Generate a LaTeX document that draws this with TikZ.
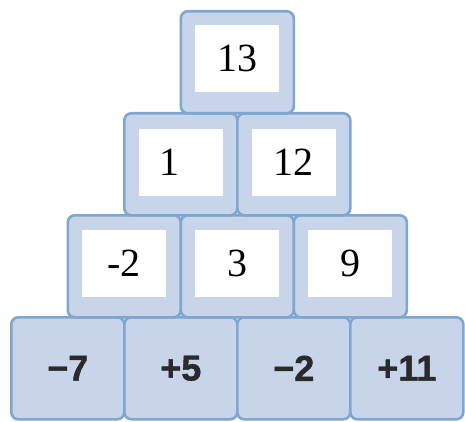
\documentclass[tikz,border=0pt]{standalone}
\usepackage{fontspec}
\setmainfont{Liberation Serif}
\newfontfamily\heavysans[FakeBold=1.2]{Liberation Sans Bold}
\definecolor{boxfill}{HTML}{C7D4EA}
\definecolor{boxedge}{HTML}{7FA6CE}
\definecolor{darktext}{HTML}{2A2A2A}
\begin{document}
\begin{tikzpicture}[x=1pt,y=-1pt,
  block/.style={draw=boxedge, fill=boxfill, line width=2.6pt, rounded corners=7pt,
    minimum width=113pt, minimum height=102pt, inner sep=0pt, anchor=north west},
  whitebox/.style={fill=white, draw=none, minimum width=84pt, minimum height=67pt,
    inner sep=0pt, font=\fontsize{40}{42}\selectfont},
  basetext/.style={font=\heavysans\fontsize{36}{38}\selectfont, text=darktext}]
\useasboundingbox (0,0) rectangle (465,422);
% bottom row
\node[block] (d1) at (10,316) {};
\node[block] (d2) at (123,316) {};
\node[block] (d3) at (236,316) {};
\node[block] (d4) at (349,316) {};
% third row
\node[block] (c1) at (66.5,214) {};
\node[block] (c2) at (179.5,214) {};
\node[block] (c3) at (292.5,214) {};
% second row
\node[block] (b1) at (123,112) {};
\node[block] (b2) at (236,112) {};
% top
\node[block] (a1) at (179.5,10) {};
% white fields
\node[whitebox] (wa1) at ([yshift=4pt]a1.center) {13};
\node[whitebox] (wb1) at ([yshift=2pt]b1.center) {\hspace*{-22pt}1};
\node[whitebox] (wb2) at ([yshift=2pt]b2.center) {12};
\node[whitebox] (wc1) at ([yshift=3pt]c1.center) {-2};
\node[whitebox] (wc2) at ([yshift=3pt]c2.center) {3};
\node[whitebox] (wc3) at ([yshift=3pt]c3.center) {9};
% bottom labels
\node[basetext] (t1) at (d1.center) {−7};
\node[basetext] (t2) at (d2.center) {+5};
\node[basetext] (t3) at (d3.center) {−2};
\node[basetext] (t4) at (d4.center) {+11};
\end{tikzpicture}
\end{document}
